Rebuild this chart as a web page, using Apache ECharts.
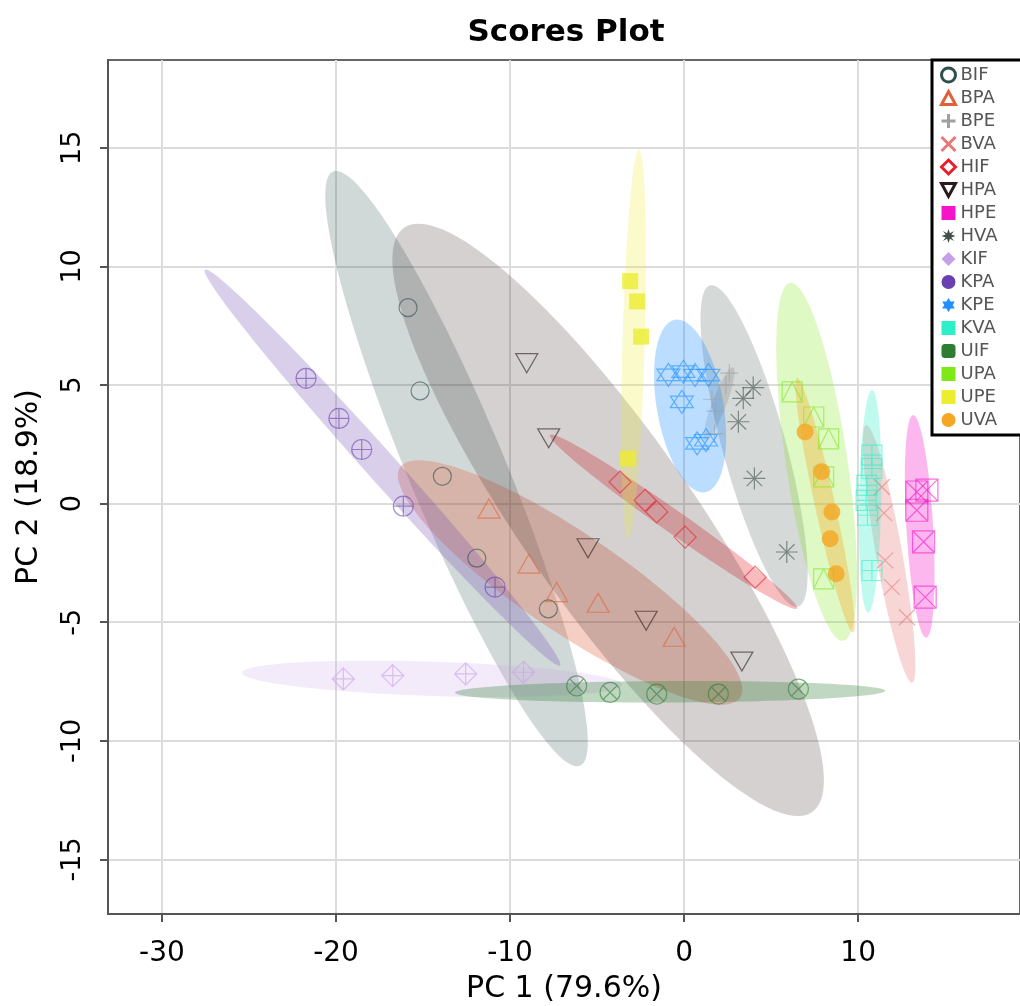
<!DOCTYPE html>
<html>
<head>
<meta charset="utf-8">
<title>Scores Plot</title>
<script src="https://cdn.jsdelivr.net/npm/echarts@6/dist/echarts.min.js"></script>
<style>
  html, body { margin: 0; padding: 0; background: #fff; }
  #chart { width: 1020px; height: 1006px; }
</style>
</head>
<body>
<div id="chart"></div>
<script>
// groups, legend order
var groups = ['BIF', 'BPA', 'BPE', 'BVA', 'HIF', 'HPA', 'HPE', 'HVA',
              'KIF', 'KPA', 'KPE', 'KVA', 'UIF', 'UPA', 'UPE', 'UVA'];

// scores [PC1, PC2] for each group
var BIF = [[-15.86, 8.26], [-15.17, 4.75], [-13.89, 1.15], [-11.91, -2.30], [-7.80, -4.44]];
var BPA = [[-11.21, -0.21], [-8.91, -2.53], [-7.32, -3.73], [-4.94, -4.18], [-0.57, -5.61]];
var BPE = [[1.60, 4.40], [1.80, 3.90], [1.75, 2.95], [2.40, 5.00], [2.60, 5.50]];
var BVA = [[11.36, 0.70], [11.49, -0.40], [11.55, -2.39], [11.94, -3.52], [12.80, -4.79]];
var HIF = [[-3.68, 0.91], [-2.24, 0.14], [-1.57, -0.35], [0.06, -1.41], [4.08, -3.10]];
var HPA = [[-9.04, 5.92], [-7.78, 2.75], [-5.52, -1.88], [-2.18, -4.94], [3.32, -6.66]];
var HPE = [[13.37, 0.49], [13.95, 0.57], [13.37, -0.28], [13.76, -1.61], [13.85, -3.94]];
var HVA = [[3.97, 4.89], [3.40, 4.44], [3.12, 3.45], [4.04, 1.06], [5.90, -2.04]];
var KIF = [[-19.58, -7.39], [-16.74, -7.25], [-12.55, -7.18], [-9.23, -7.11]];
var KPA = [[-21.72, 5.28], [-19.83, 3.59], [-18.52, 2.28], [-16.13, -0.11], [-10.86, -3.52]];
var KPE = [[-0.90, 5.43], [-0.04, 5.56], [0.63, 5.42], [1.40, 5.42], [-0.13, 4.29], [0.75, 2.54], [1.26, 2.67]];
var KVA = [[10.79, 2.04], [10.79, 1.48], [10.50, 0.77], [10.46, 0.14], [10.54, -0.49], [10.79, -2.82]];
var UIF = [[-6.17, -7.68], [-4.25, -7.96], [-1.57, -8.03], [1.97, -8.03], [6.57, -7.82]];
var UPA = [[6.21, 4.71], [7.45, 3.65], [8.31, 2.73], [8.02, 1.13], [8.02, -3.17]];
var UPE = [[-3.10, 9.38], [-2.70, 8.52], [-2.47, 7.04], [-3.22, 1.90]];
var UVA = [[6.95, 3.02], [7.91, 1.34], [8.49, -0.35], [8.39, -1.48], [8.74, -2.96]];
var scores = [BIF, BPA, BPE, BVA, HIF, HPA, HPE, HVA, KIF, KPA, KPE, KVA, UIF, UPA, UPE, UVA];

// 95% regions: both ends of the long axis [x1, y1, x2, y2], and short/long axis ratio
var ellipseEnds = [
  [-20.17, 14.00, -5.98, -11.05],
  [-16.32, 1.53, 3.22, -8.18],
  [2.82, 5.75, 1.21, 2.66],
  [10.46, 3.31, 13.10, -7.55],
  [-7.70, 2.89, 6.49, -4.42],
  [-16.09, 11.63, 7.36, -13.00],
  [13.16, 3.73, 13.91, -5.65],
  [1.49, 9.20, 6.55, -4.34],
  [-25.40, -7.13, -3.56, -7.64],
  [-27.53, 9.86, -7.13, -6.82],
  [-0.52, 7.75, 1.21, 0.48],
  [10.80, 4.79, 10.57, -4.59],
  [-13.16, -7.97, 11.55, -7.89],
  [6.09, 9.31, 9.14, -5.78],
  [-2.59, 14.93, -3.22, -1.47],
  [6.49, 5.29, 9.71, -5.43]
];
var ellipseRatio = [0.15, 0.24, 0.18, 0.10, 0.075, 0.24, 0.12, 0.19,
                    0.09, 0.057, 0.38, 0.10, 0.05, 0.17, 0.057, 0.077];

var xTicks = [-30, -20, -10, 0, 10];
var yTicks = [-15, -10, -5, 0, 5, 10, 15];

// look
var colors = ['#2f4f4f', '#e0603a', '#a0a0a0', '#e87878', '#e8202a', '#2b1b1b', '#f514c8', '#405048',
              '#c8a0e8', '#6a3fb0', '#1e90ff', '#2ef0c8', '#2e7d32', '#7fe817', '#ecec30', '#f5a623'];
var fillAlpha = [0.22, 0.3, 0.3, 0.3, 0.3, 0.2, 0.3, 0.22,
                 0.22, 0.25, 0.3, 0.3, 0.3, 0.25, 0.25, 0.35];

var C = 'M10,0A10,10,0,1,1,10,20A10,10,0,1,1,10,0Z';
var shapes = [
  'path://' + C,
  'path://M10,1L19.5,18.5L0.5,18.5Z',
  'path://M10,0L10,20M0,10L20,10',
  'path://M0,0L20,20M20,0L0,20',
  'path://M10,0L20,10L10,20L0,10Z',
  'path://M0.5,1.5L19.5,1.5L10,19Z',
  'path://M0,0L20,0L20,20L0,20ZM0,0L20,20M20,0L0,20',
  'path://M10,0L10,20M0,10L20,10M3,3L17,17M17,3L3,17',
  'path://M10,0L20,10L10,20L0,10ZM10,0L10,20M0,10L20,10',
  'path://' + C + 'M10,0L10,20M0,10L20,10',
  'path://M10,0L19,15L1,15ZM1,5L19,5L10,20Z',
  'path://M0,0L20,0L20,20L0,20ZM10,0L10,20M0,10L20,10',
  'path://' + C + 'M2.93,2.93L17.07,17.07M17.07,2.93L2.93,17.07',
  'path://M0,0L20,0L20,20L0,20ZM0,20L10,0L20,20',
  'rect',
  'circle'
];
var sizes = [18, [22, 19], 18, 16, 22, [22, 19], 22, 22, 22, 20, 23, 20, 20, 20, 16, 17];
var filled = [false, false, false, false, false, false, false, false,
              false, false, false, false, false, false, true, true];

// legend icons
var legendIcons = [
  'path://' + C, 'path://M10,1L19.5,18.5L0.5,18.5Z', 'path://M10,0L10,20M0,10L20,10',
  'path://M0,0L20,20M20,0L0,20', 'path://M10,0L20,10L10,20L0,10Z', 'path://M0.5,1.5L19.5,1.5L10,19Z',
  'rect', 'path://M10,0L12,6L18,3L14,8L20,10L14,12L18,17L12,14L10,20L8,14L2,17L6,12L0,10L6,8L2,3L8,6Z',
  'diamond', 'circle', 'path://M10,0L19,15L1,15ZM1,5L19,5L10,20Z', 'rect',
  'roundRect', 'rect', 'rect', 'circle'
];
var legendOpen = [true, true, true, true, true, true, false, false,
                  false, false, false, false, false, false, false, false];

function rgba(hex, a) {
  var n = parseInt(hex.slice(1), 16);
  return 'rgba(' + (n >> 16) + ',' + ((n >> 8) & 255) + ',' + (n & 255) + ',' + a + ')';
}

var font = 'DejaVu Sans';
var chart = echarts.init(document.getElementById('chart'), null, { renderer: 'canvas' });

var series = [];
series.push({
  name: 'regions',
  type: 'custom',
  z: 1,
  clip: true,
  silent: true,
  data: groups.map(function (g, i) { return [i, 0]; }),
  renderItem: function (params, api) {
    var i = params.dataIndex;
    var e = ellipseEnds[i];
    var p1 = api.coord([e[0], e[1]]);
    var p2 = api.coord([e[2], e[3]]);
    var cx = (p1[0] + p2[0]) / 2, cy = (p1[1] + p2[1]) / 2;
    var ux = (p2[0] - p1[0]) / 2, uy = (p2[1] - p1[1]) / 2;
    var vx = -uy * ellipseRatio[i], vy = ux * ellipseRatio[i];
    var pts = [];
    for (var k = 0; k < 120; k++) {
      var t = k / 120 * Math.PI * 2;
      pts.push([cx + ux * Math.cos(t) + vx * Math.sin(t), cy + uy * Math.cos(t) + vy * Math.sin(t)]);
    }
    return {
      type: 'polygon',
      shape: { points: pts },
      style: { fill: rgba(colors[i], fillAlpha[i]), stroke: null }
    };
  }
});

groups.forEach(function (g, i) {
  series.push({
    name: g,
    type: 'scatter',
    z: 3,
    data: scores[i],
    symbol: shapes[i],
    symbolSize: sizes[i],
    silent: true,
    itemStyle: {
      color: filled[i] ? colors[i] : 'transparent',
      borderColor: colors[i],
      borderWidth: filled[i] ? 0 : 1.2,
      opacity: filled[i] ? 0.8 : 0.6
    }
  });
});

var legendData = groups.map(function (g, i) {
  return {
    name: g,
    icon: legendIcons[i],
    itemStyle: legendOpen[i]
      ? { color: 'transparent', borderColor: colors[i], borderWidth: 3, opacity: 1 }
      : { color: colors[i], borderColor: colors[i], borderWidth: 0, opacity: 1 }
  };
});

var option = {
  backgroundColor: '#fff',
  animation: false,
  title: {
    text: 'Scores Plot',
    left: 561,
    textAlign: 'center',
    top: 12,
    textStyle: { fontFamily: font, fontSize: 31, fontWeight: 'bold', color: '#000' }
  },
  legend: {
    orient: 'vertical',
    left: 932,
    top: 60,
    data: legendData,
    itemWidth: 14,
    itemHeight: 14,
    itemGap: 5,
    padding: [6, 40, 6, 8],
    borderColor: '#000',
    borderWidth: 3,
    backgroundColor: '#fff',
    selectedMode: false,
    textStyle: { fontFamily: font, fontSize: 18, color: '#555' },
    z: 10
  },
  grid: {
    left: 108,
    right: 0,
    top: 60,
    bottom: 92,
    show: true,
    borderColor: '#666',
    borderWidth: 2,
    containLabel: false,
    outerBoundsMode: 'none'
  },
  xAxis: {
    type: 'value',
    min: -33.1,
    max: 19.3,
    name: 'PC 1 (79.6%)',
    nameLocation: 'middle',
    nameGap: 60,
    nameTextStyle: { fontFamily: font, fontSize: 30, color: '#000' },
    axisLine: { onZero: false, lineStyle: { color: '#555', width: 2 } },
    axisTick: { customValues: xTicks, length: 8, lineStyle: { color: '#555', width: 2 } },
    axisLabel: { customValues: xTicks, margin: 26, fontFamily: font, fontSize: 28, color: '#000' },
    splitLine: { show: true, lineStyle: { color: '#dcdcdc', width: 2 } }
  },
  yAxis: {
    type: 'value',
    min: -17.3,
    max: 18.7,
    name: 'PC 2 (18.9%)',
    nameLocation: 'middle',
    nameGap: 64,
    nameTextStyle: { fontFamily: font, fontSize: 30, color: '#000' },
    axisLine: { onZero: false, lineStyle: { color: '#555', width: 2 } },
    axisTick: { customValues: yTicks, length: 8, lineStyle: { color: '#555', width: 2 } },
    axisLabel: { customValues: yTicks, rotate: 90, margin: 22, fontFamily: font, fontSize: 27, color: '#000' },
    splitLine: { show: true, lineStyle: { color: '#dcdcdc', width: 2 } }
  },
  series: series
};

chart.setOption(option);
</script>
</body>
</html>
